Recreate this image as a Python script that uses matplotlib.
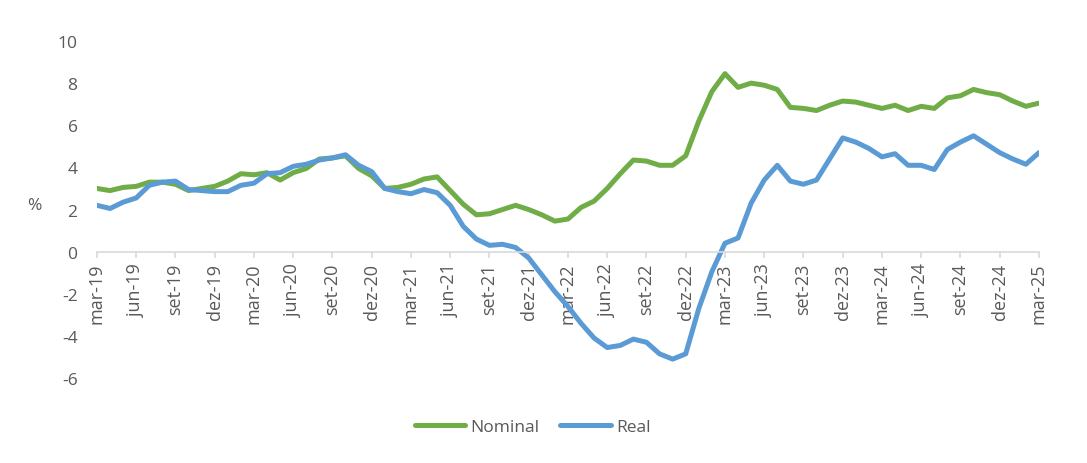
import matplotlib
matplotlib.use("Agg")
import matplotlib.pyplot as plt

plt.rcParams['font.family'] = ['Open Sans', 'DejaVu Sans']
plt.rcParams['axes.unicode_minus'] = False

# monthly, mar-19 .. mar-25
months = ['jan', 'fev', 'mar', 'abr', 'mai', 'jun', 'jul', 'ago', 'set', 'out', 'nov', 'dez']
labels = []
for k in range(73):
    m = (2 + k) % 12
    y = 19 + (2 + k) // 12
    labels.append('%s-%02d' % (months[m], y))

nominal = [3.0, 2.9, 3.05, 3.1, 3.3, 3.3, 3.2, 2.9, 3.0, 3.1, 3.35, 3.7,
           3.65, 3.75, 3.4, 3.75, 3.95, 4.4, 4.45, 4.55, 3.95, 3.6, 3.0, 3.05,
           3.2, 3.45, 3.55, 2.9, 2.25, 1.75, 1.8, 2.0, 2.2, 2.0, 1.75, 1.45,
           1.55, 2.1, 2.4, 3.0, 3.7, 4.35, 4.3, 4.1, 4.1, 4.55, 6.2, 7.6,
           8.45, 7.8, 8.0, 7.9, 7.7, 6.85, 6.8, 6.7, 6.95, 7.15, 7.1, 6.95,
           6.8, 6.95, 6.7, 6.9, 6.8, 7.3, 7.4, 7.7, 7.55, 7.45, 7.15, 6.9,
           7.05]
real = [2.2, 2.05, 2.35, 2.55, 3.15, 3.3, 3.35, 2.95, 2.9, 2.85, 2.85, 3.15,
        3.25, 3.7, 3.75, 4.05, 4.15, 4.35, 4.45, 4.6, 4.1, 3.8, 3.0, 2.85,
        2.75, 2.95, 2.8, 2.2, 1.2, 0.6, 0.3, 0.35, 0.2, -0.3, -1.1, -1.9,
        -2.6, -3.4, -4.1, -4.55, -4.45, -4.15, -4.3, -4.85, -5.1, -4.85, -2.7, -0.95,
        0.4, 0.65, 2.3, 3.4, 4.1, 3.35, 3.2, 3.4, 4.4, 5.4, 5.2, 4.9,
        4.5, 4.65, 4.1, 4.1, 3.9, 4.85, 5.2, 5.5, 5.1, 4.7, 4.4, 4.15,
        4.7]

green = '#70AD47'
blue = '#5B9BD5'
txt = '#595959'

fig = plt.figure(figsize=(10.87, 4.64), dpi=100)
ax = fig.add_axes([0.0892, 0.183, 0.8666, 0.7265])

x = list(range(len(labels)))
ax.plot(x, nominal, color=green, lw=3.6, label='Nominal', solid_capstyle='round', solid_joinstyle='round')
ax.plot(x, real, color=blue, lw=3.6, label='Real', solid_capstyle='round', solid_joinstyle='round')

ax.set_xlim(0, 72)
ax.set_ylim(-6, 10)
ax.set_yticks(range(-6, 11, 2))

for s in ['top', 'right', 'left']:
    ax.spines[s].set_visible(False)
ax.spines['bottom'].set_position(('data', 0))
ax.spines['bottom'].set_color('#D9D9D9')
ax.spines['bottom'].set_linewidth(1.2)

ax.set_xticks(x[::3])
ax.set_xticklabels(labels[::3], rotation=90)
ax.tick_params(axis='x', colors='#D9D9D9', length=4, width=1.2, labelcolor=txt, labelsize=13, pad=4)
ax.tick_params(axis='y', length=0, labelcolor=txt, labelsize=12.5, pad=14)

ax.set_ylabel('%', color=txt, fontsize=12.5, rotation=0, va='center')
ax.yaxis.set_label_coords(-0.066, 0.513)

leg = fig.legend(loc='center', bbox_to_anchor=(0.49, 0.078), ncol=2, frameon=False,
                 fontsize=12.5, handlelength=2.9, handletextpad=0.3, columnspacing=1.2)
for t in leg.get_texts():
    t.set_color(txt)

fig.savefig('out.png', dpi=100)
